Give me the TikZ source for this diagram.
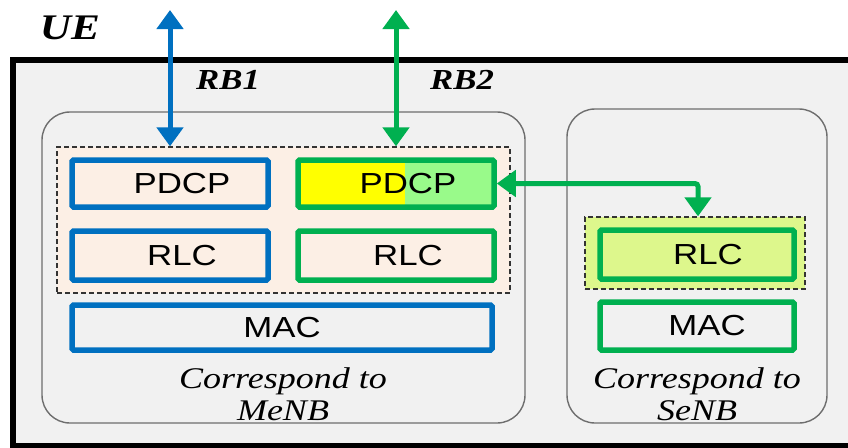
\documentclass[tikz,border=0pt]{standalone}
\usepackage{fontspec}
\usetikzlibrary{arrows.meta}
\newfontfamily\boxfont[FakeStretch=1.2]{Liberation Sans}
\newfontfamily\capfont[FakeStretch=1.2]{Liberation Serif}

\definecolor{ueblue}{HTML}{0070C0}
\definecolor{uegreen}{HTML}{00B050}
\definecolor{panelgray}{HTML}{F1F1F1}
\definecolor{peach}{HTML}{FCEFE5}
\definecolor{limefill}{HTML}{DDF78C}
\definecolor{lightgreen}{HTML}{99FA8A}
\definecolor{pureyellow}{HTML}{FFFF00}
\definecolor{enbborder}{HTML}{6E6E6E}

\tikzset{
  layer/.style={draw, line width=5.5pt, inner sep=0pt, rounded corners=1.5pt},
  bluebox/.style={layer, draw=ueblue},
  greenbox/.style={layer, draw=uegreen},
  boxtext/.style={font=\boxfont\fontsize{29}{32}\selectfont, text=black},
  captext/.style={font=\capfont\itshape\fontsize{30}{32}\selectfont, align=center, text=black},
  titletext/.style={font=\capfont\bfseries\itshape\fontsize{36}{38}\selectfont, text=black},
  rbtext/.style={font=\capfont\bfseries\itshape\fontsize{29}{31}\selectfont, text=black},
  enb/.style={draw=enbborder, line width=1.4pt, rounded corners=28pt, inner sep=0pt, fill=panelgray},
  group/.style={draw=black!80, dashed, dash pattern=on 5pt off 3pt, line width=1.3pt, inner sep=0pt},
  bearer/.style={line width=5pt, {Triangle[width=26pt,length=19pt]}-{Triangle[width=26pt,length=19pt]}},
}

\begin{document}
\begin{tikzpicture}[x=1pt, y=-1pt]
  \useasboundingbox (0,0) rectangle (848,447);
  \clip (0,0) rectangle (848,447);

  % UE frame
  \draw[line width=6pt, fill=panelgray] (12.5,60) rectangle (880,446);
  \node[titletext] (ue) at (70,28) {UE};

  % eNB panels
  \node[enb, minimum width=483pt, minimum height=311pt] (menb) at (283.5,267.5) {};
  \node[enb, minimum width=260pt, minimum height=314pt] (senb) at (697,266) {};

  % MeNB split bearer group
  \node[group, fill=peach, minimum width=453pt, minimum height=146pt] (mgroup) at (283.5,220) {};

  \node[bluebox, fill=peach, minimum width=196pt, minimum height=47pt,
        label={[boxtext, xshift=12pt]center:PDCP}] (bpdcp) at (170,183.5) {};
  \node[bluebox, fill=peach, minimum width=196pt, minimum height=49pt,
        label={[boxtext, xshift=12pt]center:RLC}] (brlc) at (170,255.5) {};

  % split PDCP: yellow part on the left, light green on the right
  \node[greenbox, minimum width=196pt, minimum height=47pt,
        path picture={
          \fill[pureyellow] (path picture bounding box.north west) rectangle (9,60);
          \fill[lightgreen] (9,-60) rectangle (path picture bounding box.south east);
        },
        label={[boxtext, xshift=12pt]center:PDCP}] (gpdcp) at (396,183.5) {};
  \node[greenbox, fill=peach, minimum width=196pt, minimum height=49pt,
        label={[boxtext, xshift=12pt]center:RLC}] (grlc) at (396,255.5) {};

  \node[bluebox, fill=panelgray, minimum width=420pt, minimum height=45pt,
        label={[boxtext]center:MAC}] (bmac) at (282,327.5) {};

  \node[captext] (mcap) at (283,394) {Correspond to\\MeNB};

  % SeNB stack
  \node[group, fill=limefill, minimum width=220pt, minimum height=72pt] (sgroup) at (695,253) {};
  \node[greenbox, fill=limefill, minimum width=194pt, minimum height=49pt,
        label={[boxtext, xshift=11pt]center:RLC}] (srlc) at (697,254.5) {};
  \node[greenbox, fill=panelgray, minimum width=194pt, minimum height=48pt,
        label={[boxtext, xshift=10pt]center:MAC}] (smac) at (697,326) {};

  \node[captext] (scap) at (697,394) {Correspond to\\SeNB};

  % radio bearers
  \coordinate (rb1top) at (170,10);
  \coordinate (rb2top) at (396,10);
  \draw[bearer, ueblue] (rb1top) -- (rb1top |- mgroup.north);
  \draw[bearer, uegreen] (rb2top) -- (rb2top |- mgroup.north);
  \node[rbtext] (rb1) at (228,80) {RB1};
  \node[rbtext] (rb2) at (462,80) {RB2};

  % split bearer link towards SeNB
  \coordinate (turn) at (698,183.5);
  \draw[bearer, uegreen, rounded corners=3pt] (gpdcp.east) -- (turn) -- (turn |- sgroup.north);
\end{tikzpicture}
\end{document}
